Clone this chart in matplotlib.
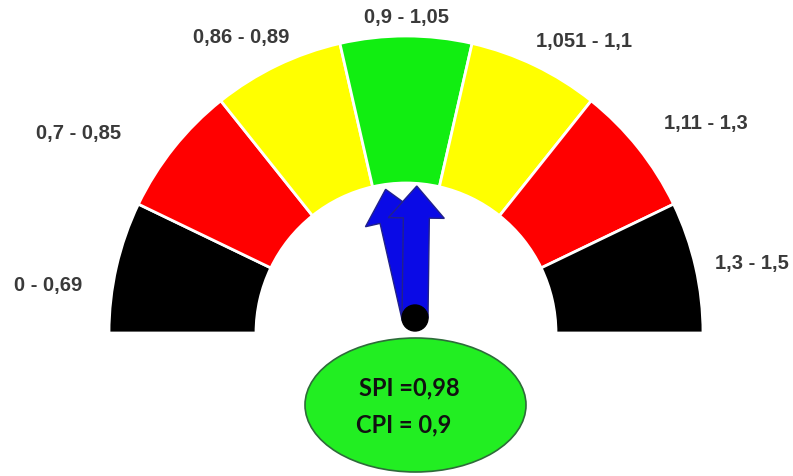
import numpy as np
import matplotlib
matplotlib.use("Agg")
import matplotlib.pyplot as plt
from matplotlib.patches import Wedge, Ellipse, Circle, FancyArrow

# gauge bands (lower bound of each band, label, colour)
band_lows = [0.0, 0.7, 0.86, 0.9, 1.051, 1.11, 1.3]
band_max = 1.5
band_labels = ["0 - 0,69", "0,7 - 0,85", "0,86 - 0,89", "0,9 - 1,05",
               "1,051 - 1,1", "1,11 - 1,3", "1,3 - 1,5"]
band_colors = ["#000000", "#ff0000", "#ffff00", "#11ee11",
               "#ffff00", "#ff0000", "#000000"]

# indicators
spi = 0.98
cpi = 0.9

W, H = 793, 476
CENTER = (406, H - 333)
R_OUT, R_IN = 297, 150
PIVOT = (415, H - 318)
NEEDLE_LEN = 132

# where each band label sits (pixel coords, y down)
LABEL_POS = [(48, 285), (79, 134), (241, 38), (406, 18),
             (584, 42), (706, 123), (752, 264)]

n = len(band_lows)
edges_deg = [180 - i * 180 / n for i in range(n + 1)]


def value_to_angle(v):
    return np.interp(v, band_lows + [band_max], edges_deg)


fig = plt.figure(figsize=(W / 100, H / 100), dpi=100)
ax = fig.add_axes([0, 0, 1, 1])
ax.set_xlim(0, W)
ax.set_ylim(0, H)
ax.set_aspect("equal")
ax.axis("off")

for i, col in enumerate(band_colors):
    ax.add_patch(Wedge(CENTER, R_OUT, edges_deg[i + 1], edges_deg[i],
                       width=R_OUT - R_IN, facecolor=col,
                       edgecolor="white", linewidth=2))

for lab, (x, y) in zip(band_labels, LABEL_POS):
    ax.text(x, H - y, lab, ha="center", va="center", fontsize=14.5,
            fontweight="bold", color="#3a3a3a",
            family=["Liberation Sans", "DejaVu Sans"])

# needles: CPI underneath, SPI on top
for val in (cpi, spi):
    a = np.deg2rad(value_to_angle(val))
    dx, dy = NEEDLE_LEN * np.cos(a), NEEDLE_LEN * np.sin(a)
    ax.add_patch(FancyArrow(PIVOT[0], PIVOT[1], dx, dy, width=26,
                            head_width=56, head_length=32,
                            length_includes_head=True,
                            facecolor="#0a0ae6", edgecolor="#22228a",
                            linewidth=1))

ax.add_patch(Circle(PIVOT, 13, facecolor="black", edgecolor="black", zorder=5))

ax.add_patch(Ellipse((415.5, H - 405), 221, 134, facecolor="#22ee22",
                     edgecolor="#2e6b3a", linewidth=1.2))
ax.text(409, H - 388, f"SPI ={spi:g}".replace(".", ","), ha="center",
        va="center", fontsize=17, fontweight="bold", color="#111111",
        family=["Lato", "DejaVu Sans"])
ax.text(404, H - 425, f"CPI = {cpi:g}".replace(".", ","), ha="center",
        va="center", fontsize=17, fontweight="bold", color="#111111",
        family=["Lato", "DejaVu Sans"])

fig.savefig("out.png", dpi=100, facecolor="white")
